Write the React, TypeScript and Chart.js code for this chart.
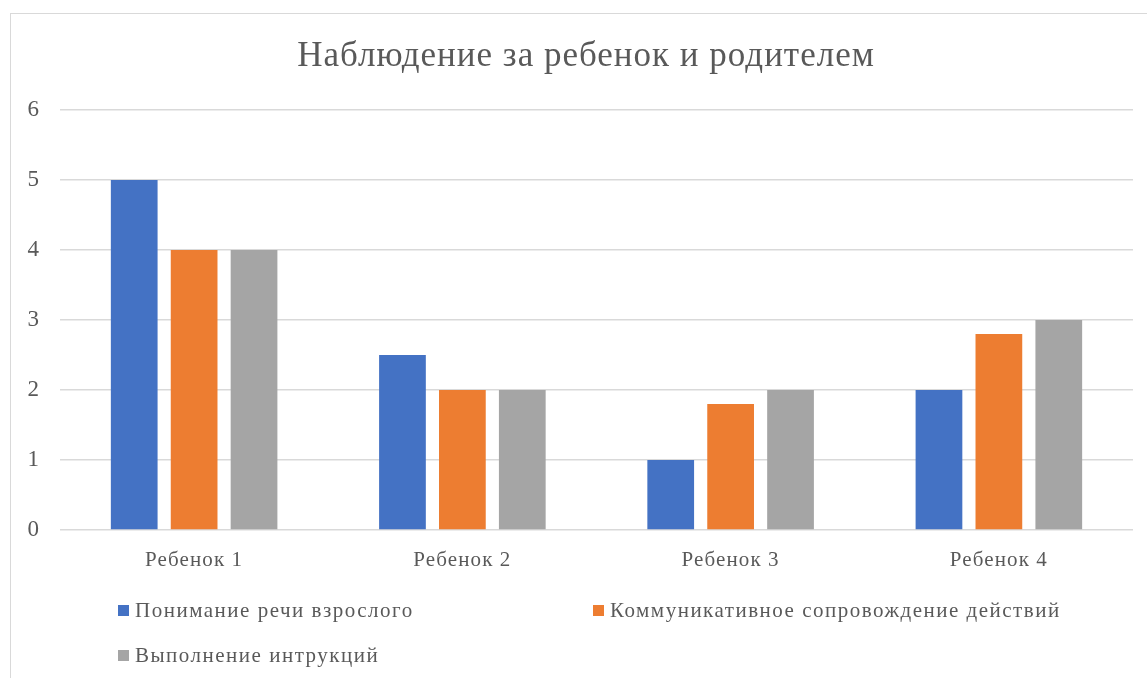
import React, { useEffect, useRef } from "react";
import { Chart, registerables } from "chart.js";

Chart.register(...registerables);

const title = "Наблюдение за ребенок и родителем";
const categories = ["Ребенок 1", "Ребенок 2", "Ребенок 3", "Ребенок 4"];
const seriesNames = [
  "Понимание речи взрослого",
  "Коммуникативное сопровождение действий",
  "Выполнение интрукций",
];
const understanding = [5, 2.5, 1, 2];
const communication = [4, 2, 1.8, 2.8];
const instructions = [4, 2, 2, 3];
const colors = ["#4472C4", "#ED7D31", "#A5A5A5"];
const yTicks = [0, 1, 2, 3, 4, 5, 6];

const FONT = "'Liberation Serif', 'Times New Roman', serif";
const TEXT = "#595959";

const legendPositions = [
  { x: 118, y: 611 },
  { x: 593, y: 611 },
  { x: 118, y: 656 },
];

const customPlugin = {
  id: "custom",
  afterDraw(chart: any) {
    const ctx = chart.ctx;
    ctx.save();
    // title
    ctx.fillStyle = TEXT;
    ctx.font = `35px ${FONT}`;
    ctx.letterSpacing = "1px";
    ctx.textAlign = "center";
    ctx.textBaseline = "middle";
    ctx.fillText(title, 586, 57);
    // x labels
    const xs = chart.scales.x;
    ctx.font = `21px ${FONT}`;
    ctx.letterSpacing = "1.1px";
    chart.data.labels.forEach((lab: string, i: number) => {
      ctx.fillText(lab, xs.getPixelForTick(i), chart.chartArea.bottom + 30);
    });
    // legend
    ctx.letterSpacing = "1.5px";
    ctx.textAlign = "left";
    chart.data.datasets.forEach((ds: any, i: number) => {
      const p = legendPositions[i];
      ctx.fillStyle = ds.backgroundColor;
      ctx.fillRect(p.x, p.y - 6, 11, 11);
      ctx.fillStyle = TEXT;
      ctx.fillText(ds.label, p.x + 17, p.y);
    });
    ctx.restore();
  },
};

export default function App() {
  const ref = useRef<HTMLCanvasElement>(null);
  useEffect(() => {
    if (!ref.current) return;
    const data = [understanding, communication, instructions];
    const chart = new Chart(ref.current, {
      type: "bar",
      data: {
        labels: categories,
        datasets: seriesNames.map((name, i) => ({
          label: name,
          data: data[i],
          backgroundColor: colors[i],
          categoryPercentage: 0.67,
          barPercentage: 0.78,
        })),
      },
      options: {
        animation: false,
        responsive: false,
        layout: { padding: { top: 110, left: 0, right: 14, bottom: 108 } },
        plugins: {
          legend: { display: false },
          title: { display: false },
          tooltip: { enabled: false },
        },
        scales: {
          x: {
            grid: { display: false },
            border: { display: false },
            ticks: { display: false },
            afterFit(scale: any) {
              scale.height = 40;
            },
          },
          y: {
            min: 0,
            max: 6,
            afterBuildTicks(scale: any) {
              scale.ticks = yTicks.map((v) => ({ value: v }));
            },
            grid: { color: "#D9D9D9", lineWidth: 1.5, drawTicks: false },
            border: { display: false },
            ticks: {
              color: TEXT,
              font: { family: FONT, size: 23 },
              padding: 21,
            },
            afterFit(scale: any) {
              scale.width = 60;
            },
          },
        },
      },
      plugins: [customPlugin],
    });
    return () => chart.destroy();
  }, []);

  return (
    <div
      style={{
        position: "fixed",
        left: 0,
        top: 0,
        width: 1147,
        height: 678,
        overflow: "hidden",
        background: "#fff",
      }}
    >
      <div
        style={{
          position: "absolute",
          left: 10,
          top: 13,
          width: 1200,
          height: 700,
          border: "1.5px solid #D9D9D9",
          boxSizing: "border-box",
        }}
      />
      <canvas
        ref={ref}
        width={1147}
        height={678}
        style={{ position: "absolute", left: 0, top: 0, width: 1147, height: 678 }}
      />
    </div>
  );
}
